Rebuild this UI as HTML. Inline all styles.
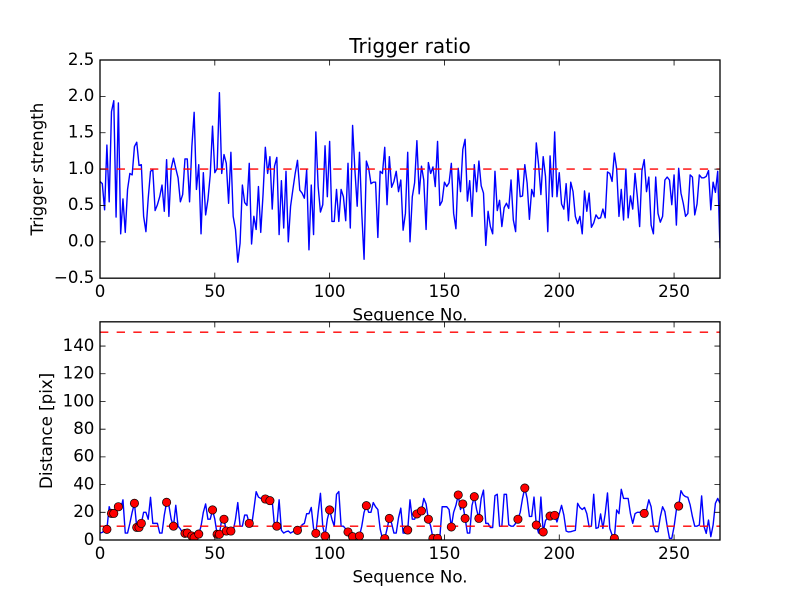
<!DOCTYPE html>
<html>
<head>
<meta charset="utf-8">
<style>
html,body{margin:0;padding:0;background:#fff;}
svg{display:block;}
text{font-family:"DejaVu Sans","Liberation Sans",sans-serif;fill:#000;}
</style>
</head>
<body>
<svg width="800" height="600" viewBox="0 0 800 600" xmlns="http://www.w3.org/2000/svg">
<defs>
<clipPath id="c1"><rect x="100" y="60" width="620" height="218.18"/></clipPath>
<clipPath id="c2"><rect x="100" y="321.82" width="620" height="218.18"/></clipPath>
<circle id="m" cx="0" cy="0" r="4.17" fill="#ff0000" stroke="#000" stroke-width="0.7"/>
</defs>
<rect x="0" y="0" width="800" height="600" fill="#fff"/>

<rect x="100" y="60" width="620" height="218.18" fill="#fff"/>
<g clip-path="url(#c1)">
<g transform="translate(100,241.82) scale(2.2963,-72.727)">
<polyline fill="none" stroke="#0000ff" stroke-width="1.4" vector-effect="non-scaling-stroke" stroke-linejoin="round" points="0,0.83 1,0.80 2,0.44 3,1.33 4,0.55 5,1.79 6,1.94 7,0.34 8,1.91 9,0.11 10,0.59 11,0.13 12,0.72 13,0.94 14,0.92 15,1.31 16,1.37 17,1.05 18,1.06 19,0.35 20,0.14 21,0.60 22,0.97 23,0.99 24,0.43 25,0.51 26,0.62 27,0.78 28,0.42 29,1.13 30,0.35 31,1.01 32,1.15 33,1.01 34,0.88 35,0.55 36,0.65 37,1.14 38,1.14 39,0.55 40,1.31 41,1.78 42,0.72 43,1.06 44,0.11 45,0.95 46,0.37 47,0.58 48,0.92 49,1.59 50,0.95 51,1.01 52,2.05 53,0.94 54,1.20 55,1.08 56,0.53 57,1.23 58,0.35 59,0.17 60,-0.28 61,-0.02 62,0.78 63,0.54 64,0.50 65,1.08 66,-0.03 67,0.35 68,0.17 69,0.76 70,0.13 71,0.65 72,1.30 73,0.94 74,1.17 75,0.45 76,1.04 77,1.16 78,0.10 79,0.84 80,0.19 81,0.97 82,0.00 83,0.49 84,0.72 85,0.94 86,1.12 87,0.71 88,0.67 89,0.60 90,0.99 91,-0.11 92,0.78 93,0.10 94,1.51 95,0.76 96,0.41 97,0.51 98,1.32 99,0.62 100,1.38 101,0.28 102,0.28 103,0.72 104,0.28 105,0.72 106,0.62 107,0.29 108,1.08 109,0.19 110,1.60 111,0.99 112,0.49 113,1.23 114,0.39 115,-0.24 116,1.11 117,1.01 118,0.80 119,0.82 120,0.82 121,0.06 122,0.97 123,0.94 124,1.30 125,0.51 126,1.17 127,0.75 128,0.83 129,0.97 130,0.69 131,0.85 132,0.16 133,0.39 134,1.23 135,0.00 136,0.62 137,0.81 138,1.39 139,0.66 140,1.04 141,0.85 142,0.17 143,1.09 144,0.94 145,1.03 146,0.76 147,1.38 148,0.50 149,0.56 150,0.82 151,0.76 152,0.81 153,1.08 154,0.39 155,0.18 156,1.01 157,0.69 158,1.27 159,1.41 160,0.56 161,0.84 162,0.35 163,1.06 164,0.69 165,1.11 166,0.77 167,0.67 168,-0.05 169,0.42 170,0.21 171,0.11 172,0.97 173,0.43 174,0.57 175,0.21 176,0.47 177,0.53 178,0.46 179,0.85 180,0.30 181,0.14 182,1.00 183,0.62 184,0.63 185,1.06 186,0.81 187,0.31 188,0.72 189,0.62 190,1.36 191,1.06 192,0.65 193,1.17 194,0.90 195,0.14 196,1.18 197,0.62 198,1.51 199,0.62 200,0.95 201,0.52 202,0.45 203,0.80 204,0.29 205,0.82 206,0.69 207,0.35 208,0.25 209,0.35 210,0.11 211,0.70 212,0.42 213,0.67 214,0.20 215,0.26 216,0.37 217,0.32 218,0.33 219,0.45 220,0.33 221,0.96 222,0.94 223,0.83 224,1.22 225,1.00 226,0.35 227,0.72 228,0.30 229,1.00 230,0.33 231,0.63 232,0.45 233,0.94 234,0.62 235,0.21 236,0.98 237,1.13 238,0.69 239,0.89 240,0.23 241,0.11 242,0.89 243,0.39 244,0.27 245,0.35 246,0.85 247,0.89 248,0.85 249,0.51 250,0.92 251,0.23 252,1.01 253,0.67 254,0.53 255,0.35 256,0.39 257,0.92 258,0.89 259,0.37 260,0.52 261,0.92 262,0.88 263,0.88 264,0.90 265,0.98 266,0.44 267,0.82 268,0.68 269,0.97 270,-0.09"/>
</g>
<line x1="100" y1="169.09" x2="720" y2="169.09" stroke="#ff0000" stroke-width="1.4" stroke-dasharray="8.33 8.33"/>
</g>
<path fill="none" stroke="#000" stroke-width="0.8" d="M100 278.18v-5.56M100 60v5.56M214.81 278.18v-5.56M214.81 60v5.56M329.63 278.18v-5.56M329.63 60v5.56M444.44 278.18v-5.56M444.44 60v5.56M559.26 278.18v-5.56M559.26 60v5.56M674.07 278.18v-5.56M674.07 60v5.56M100 241.82h5.56M720 241.82h-5.56M100 205.45h5.56M720 205.45h-5.56M100 169.09h5.56M720 169.09h-5.56M100 132.73h5.56M720 132.73h-5.56M100 96.36h5.56M720 96.36h-5.56"/>
<rect x="100" y="60" width="620" height="218.18" fill="none" stroke="#000" stroke-width="1.3"/>
<g font-size="16.67" text-anchor="middle">
<text x="100" y="297">0</text>
<text x="214.81" y="297">50</text>
<text x="329.63" y="297">100</text>
<text x="444.44" y="297">150</text>
<text x="559.26" y="297">200</text>
<text x="674.07" y="297">250</text>
</g>
<g font-size="16.67" text-anchor="end">
<text x="94.4" y="283">−0.5</text>
<text x="94.4" y="246.6">0.0</text>
<text x="94.4" y="210.2">0.5</text>
<text x="94.4" y="173.9">1.0</text>
<text x="94.4" y="137.5">1.5</text>
<text x="94.4" y="101.2">2.0</text>
<text x="94.4" y="64.8">2.5</text>
</g>
<text x="410" y="53" font-size="20" text-anchor="middle">Trigger ratio</text>
<text transform="translate(43,169.09) rotate(-90)" font-size="16.67" text-anchor="middle">Trigger strength</text>
<text x="410" y="320.7" font-size="16.67" text-anchor="middle">Sequence No.</text>

<rect x="100" y="321.82" width="620" height="218.18" fill="#fff"/>
<g clip-path="url(#c2)">
<g transform="translate(100,540) scale(2.2963,-1.3853)">
<polyline fill="none" stroke="#0000ff" stroke-width="1.4" vector-effect="non-scaling-stroke" stroke-linejoin="round" points="0,5 1,5.5 2,7 3,7.7 4,24 5,19.2 6,19.2 7,21 8,24 9,22 10,29 11,5 12,5 13,12 14,20 15,26.5 16,9.1 17,9.1 18,12 19,20 20,20 21,15 22,30.8 23,12 24,12 25,12 26,5 27,5 28,18 29,27.2 30,25 31,15 32,10 33,25 34,10 35,8 36,5 37,4.8 38,5 39,2 40,2.9 41,1.7 42,1 43,4.3 44,10 45,20 46,26 47,15 48,15 49,21.7 50,15 51,4.1 52,4.1 53,15 54,15 55,6.5 56,6.5 57,6.5 58,6.5 59,15 60,27 61,10 62,10 63,18 64,18 65,12 66,10 67,22 68,34.9 69,31 70,30 71,30 72,29.6 73,29 74,28.4 75,28 76,10 77,10 78,29 79,7 80,5 81,6 82,6.5 83,5 84,6 85,7 86,7 87,7 88,11 89,12 90,19 91,19 92,23.5 93,8.4 94,4.8 95,20 96,33.7 97,10 98,2.9 99,15 100,21.7 101,15 102,10 103,33 104,35 105,10 106,10 107,8 108,5.8 109,8 110,2.4 111,4 112,4 113,2.9 114,10 115,20 116,24.8 117,20 118,20 119,27 120,24 121,22 122,8 123,1 124,1 125,8 126,15.6 127,12 128,5 129,5 130,16 131,23 132,5 133,5 134,7.2 135,29 136,15 137,15 138,18.8 139,20 140,21 141,30 142,26 143,15 144,10 145,1.2 146,1 147,1.2 148,2 149,24 150,24 151,24 152,22 153,9.4 154,20 155,25 156,32.5 157,22 158,26 159,15.6 160,5 161,5 162,25 163,31.3 164,22 165,15.6 166,30 167,36 168,12 169,12 170,9 171,9 172,32 173,33 174,10 175,10 176,33 177,33 178,11 179,10 180,10 181,12 182,15 183,20 184,30 185,37.5 186,30 187,17 188,17 189,31 190,10.8 191,5 192,31 193,5.8 194,14 195,16 196,17.3 197,17 198,17.8 199,13 200,19 201,25 202,18 203,6.5 204,5.8 205,6 206,6.5 207,7 208,26.5 209,23.5 210,22 211,23.5 212,19 213,9.6 214,10 215,33 216,8.4 217,9 218,18.8 219,8.4 220,19 221,34 222,8.4 223,3.6 224,1.2 225,21.7 226,19 227,36.6 228,30 229,30 230,30 231,19 232,12 233,19 234,20 235,20 236,20.5 237,19.2 238,21.7 239,29 240,24 241,10 242,6 243,6 244,16.8 245,24 246,20.5 247,10 248,1.2 249,1.2 250,9.6 251,21.7 252,24.5 253,35.6 254,32.5 255,31.3 256,30.8 257,25.3 258,16.8 259,10 260,10 261,10.8 262,31.8 263,10 264,4.8 265,14.4 266,2.4 267,10.8 268,26.5 269,30 270,26.5"/>
</g>
<line x1="100" y1="526.15" x2="720" y2="526.15" stroke="#ff0000" stroke-width="1.4" stroke-dasharray="8.33 8.33"/>
<line x1="100" y1="332.2" x2="720" y2="332.2" stroke="#ff0000" stroke-width="1.4" stroke-dasharray="8.33 8.33"/>
<use href="#m" x="106.89" y="529.33"/>
<use href="#m" x="111.48" y="513.40"/>
<use href="#m" x="113.78" y="513.40"/>
<use href="#m" x="118.37" y="506.75"/>
<use href="#m" x="134.44" y="503.29"/>
<use href="#m" x="136.74" y="527.39"/>
<use href="#m" x="139.04" y="527.39"/>
<use href="#m" x="141.33" y="523.38"/>
<use href="#m" x="166.59" y="502.32"/>
<use href="#m" x="173.48" y="526.15"/>
<use href="#m" x="184.96" y="533.35"/>
<use href="#m" x="187.26" y="533.07"/>
<use href="#m" x="191.85" y="535.98"/>
<use href="#m" x="194.15" y="537.64"/>
<use href="#m" x="198.74" y="534.04"/>
<use href="#m" x="212.52" y="509.94"/>
<use href="#m" x="217.11" y="534.32"/>
<use href="#m" x="219.41" y="534.32"/>
<use href="#m" x="224.00" y="519.22"/>
<use href="#m" x="226.30" y="531.00"/>
<use href="#m" x="230.89" y="531.00"/>
<use href="#m" x="249.26" y="523.38"/>
<use href="#m" x="265.33" y="499.00"/>
<use href="#m" x="269.93" y="500.66"/>
<use href="#m" x="276.81" y="526.15"/>
<use href="#m" x="297.48" y="530.30"/>
<use href="#m" x="315.85" y="533.35"/>
<use href="#m" x="325.04" y="535.98"/>
<use href="#m" x="329.63" y="509.94"/>
<use href="#m" x="348.00" y="531.97"/>
<use href="#m" x="352.59" y="536.68"/>
<use href="#m" x="359.48" y="535.98"/>
<use href="#m" x="366.37" y="505.64"/>
<use href="#m" x="384.74" y="538.61"/>
<use href="#m" x="389.33" y="518.39"/>
<use href="#m" x="407.70" y="530.03"/>
<use href="#m" x="416.89" y="513.96"/>
<use href="#m" x="421.48" y="510.91"/>
<use href="#m" x="428.37" y="519.22"/>
<use href="#m" x="432.96" y="538.34"/>
<use href="#m" x="437.56" y="538.34"/>
<use href="#m" x="451.33" y="526.98"/>
<use href="#m" x="458.22" y="494.98"/>
<use href="#m" x="462.81" y="503.98"/>
<use href="#m" x="465.11" y="518.39"/>
<use href="#m" x="474.30" y="496.64"/>
<use href="#m" x="478.89" y="518.39"/>
<use href="#m" x="517.93" y="519.22"/>
<use href="#m" x="524.81" y="488.05"/>
<use href="#m" x="536.30" y="525.04"/>
<use href="#m" x="543.19" y="531.97"/>
<use href="#m" x="550.07" y="516.03"/>
<use href="#m" x="554.67" y="515.34"/>
<use href="#m" x="614.37" y="538.34"/>
<use href="#m" x="644.22" y="513.40"/>
<use href="#m" x="678.67" y="506.06"/>
</g>
<path fill="none" stroke="#000" stroke-width="0.8" d="M100 540v-5.56M100 321.82v5.56M214.81 540v-5.56M214.81 321.82v5.56M329.63 540v-5.56M329.63 321.82v5.56M444.44 540v-5.56M444.44 321.82v5.56M559.26 540v-5.56M559.26 321.82v5.56M674.07 540v-5.56M674.07 321.82v5.56M100 512.29h5.56M720 512.29h-5.56M100 484.59h5.56M720 484.59h-5.56M100 456.88h5.56M720 456.88h-5.56M100 429.18h5.56M720 429.18h-5.56M100 401.47h5.56M720 401.47h-5.56M100 373.76h5.56M720 373.76h-5.56M100 346.06h5.56M720 346.06h-5.56"/>
<rect x="100" y="321.82" width="620" height="218.18" fill="none" stroke="#000" stroke-width="1.3"/>
<g font-size="16.67" text-anchor="middle">
<text x="100" y="559">0</text>
<text x="214.81" y="559">50</text>
<text x="329.63" y="559">100</text>
<text x="444.44" y="559">150</text>
<text x="559.26" y="559">200</text>
<text x="674.07" y="559">250</text>
</g>
<g font-size="16.67" text-anchor="end">
<text x="94.4" y="544.8">0</text>
<text x="94.4" y="517.1">20</text>
<text x="94.4" y="489.4">40</text>
<text x="94.4" y="461.7">60</text>
<text x="94.4" y="434">80</text>
<text x="94.4" y="406.3">100</text>
<text x="94.4" y="378.6">120</text>
<text x="94.4" y="350.9">140</text>
</g>
<text transform="translate(52,430.91) rotate(-90)" font-size="16.67" text-anchor="middle">Distance [pix]</text>
<text x="410" y="582.5" font-size="16.67" text-anchor="middle">Sequence No.</text>
</svg>
</body>
</html>
